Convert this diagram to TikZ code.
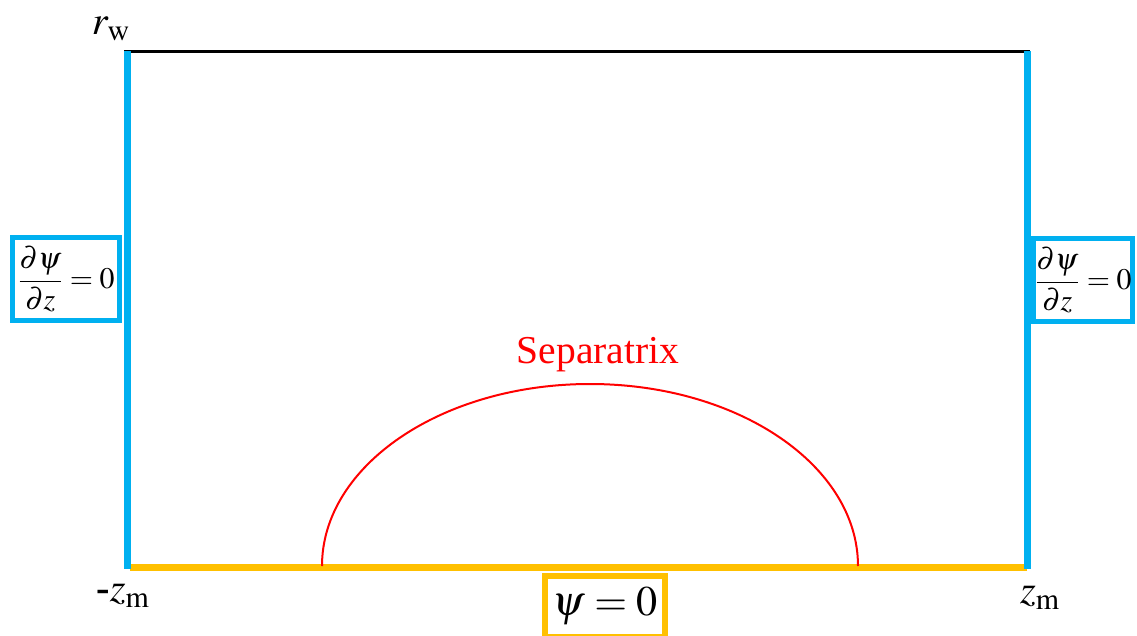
\documentclass[tikz,border=0pt]{standalone}
\usepackage{mathptmx}
\usepackage[no-math]{fontspec}
\setmainfont{Liberation Serif}
\usetikzlibrary{positioning,calc}
\definecolor{WallBlue}{RGB}{0,176,240}
\definecolor{AxisGold}{RGB}{255,192,0}
\definecolor{SepRed}{RGB}{255,0,0}

\begin{document}
\begin{tikzpicture}[
    x=0.02cm, y=-0.02cm,
    every node/.style={inner sep=0pt, outer sep=0pt},
    wall/.style={draw=WallBlue, line width=0.14cm},
    axis/.style={draw=AxisGold, line width=0.14cm},
    bcbox/.style={draw=WallBlue, line width=0.1cm, fill=white},
    bigtext/.style={font=\fontsize{23}{27}\selectfont},
]
\useasboundingbox (0,0) rectangle (1137,636);

% domain corners
\coordinate (tl) at (127,51);
\coordinate (tr) at (1027,51);
\coordinate (bl) at (127,567);
\coordinate (br) at (1027,567);

\draw[line width=0.06cm] ($(tl)+(-3,0)$) -- ($(tr)+(3,0)$);
\draw[axis] ($(bl)+(3,0)$) -- (br);
\draw[wall] (tl) -- ($(bl)+(0,2)$);
\draw[wall] (tr) -- ($(br)+(0,2)$);

% separatrix
\draw[SepRed, line width=0.04cm] (322,566) arc[start angle=180, end angle=360, x radius=268, y radius=182];
\node[font=\fontsize{22.5}{27}\selectfont, text=SepRed] (sep) at (598,355) {Separatrix};

% boundary conditions
\node[bcbox, minimum width=2.14cm, minimum height=1.66cm] (bcleft) at (66,279)
    {\fontsize{17}{21}\selectfont$\displaystyle\frac{\partial\psi}{\partial z}=0$};
\node[bcbox, minimum width=2.0cm, minimum height=1.68cm] (bcright) at (1083,280)
    {\fontsize{17}{21}\selectfont$\displaystyle\frac{\partial\psi}{\partial z}=0$};
\node[bcbox, draw=AxisGold, line width=0.12cm, minimum width=2.42cm, minimum height=1.22cm] (bcaxis) at (605,606)
    {\fontsize{24}{28}\selectfont$\psi=0$};

% corner labels
\node[bigtext] (rw) at (111,29) {$r_{\mathrm{w}}$};
\node[bigtext] (zmin) at (123,596) {$\textbf{-}z_{\mathrm{m}}$};
\node[bigtext] (zmax) at (1040,598) {$z_{\mathrm{m}}$};
\end{tikzpicture}
\end{document}
